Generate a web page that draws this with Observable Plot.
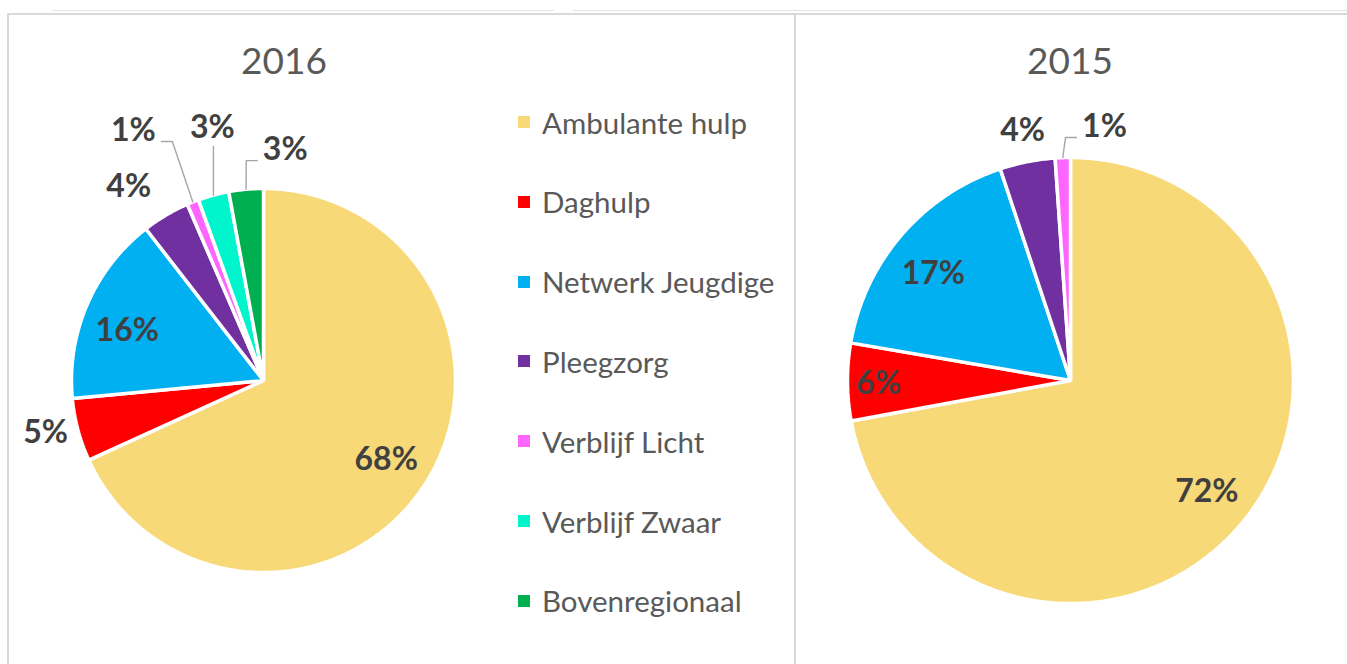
<!DOCTYPE html>
<html><head><meta charset="utf-8">
<script src="https://cdn.jsdelivr.net/npm/d3@7"></script>
<script src="https://cdn.jsdelivr.net/npm/@observablehq/plot@0.6"></script>
<style>
body{margin:0;background:#fff;font-family:Lato,"Open Sans",sans-serif;}
#root{position:relative;width:1347px;height:664px;overflow:hidden;background:#fff;}
.abs{position:absolute;}
.line{position:absolute;background:#D9D9D9;}
.title{position:absolute;width:200px;text-align:center;font-size:37px;line-height:40px;color:#595959;font-family:Lato,sans-serif;}
.leg{position:absolute;left:518px;height:30px;display:flex;align-items:center;font-size:29.5px;color:#595959;font-family:Lato,sans-serif;white-space:nowrap;}
.leg span.sw{display:inline-block;width:12px;height:12px;margin-right:12px;}
</style></head><body><div id="root"></div>
<script>
// ---- data ----
const categories = ["Ambulante hulp","Daghulp","Netwerk Jeugdige","Pleegzorg","Verblijf Licht","Verblijf Zwaar","Bovenregionaal"];
const colors = ["#F8D978","#FF0000","#00B0F0","#7030A0","#FF66FF","#00F5CC","#00B050"];
const values2016 = [68.2, 5.3, 16.0, 4.0, 1.0, 2.6, 2.9];
const values2015 = [72.1, 5.6, 17.2, 4.0, 1.1, 0, 0];
const years = ["2016","2015"];

// ---- layout (label placement: radius factor, angle shift deg, leader side) ----
const layout2016 = [
  {r:0.76, da:0}, {r:1.167, da:1.5}, {r:0.755, da:-3.4}, {r:1.23, da:-4.2},
  {r:1.468, da:-5.9, leader:"right"}, {r:1.344, da:3.7, leader:"below"}, {r:1.208, da:10.6, leader:"left"}
];
const layout2015 = [
  {r:0.79, da:-0.5}, {r:0.86, da:-0.5}, {r:0.78, da:-2.7}, {r:1.14, da:0.3},
  {r:1.149, da:9.6, leader:"left"}, {r:1, da:0}, {r:1, da:0}
];

const root = document.getElementById("root");
function addLine(l,t,w,h,c){const d=document.createElement("div");d.className="line";d.style.cssText=`left:${l}px;top:${t}px;width:${w}px;height:${h}px;`+(c?`background:${c};`:"");root.appendChild(d);}

function pie(values, layout, W, H, cx, cy, k){
  const arcs = d3.pie().sort(null).value(d=>d)(values);
  const pts = [];
  const labels = [];
  const leaders = [];
  arcs.forEach((a,i)=>{
    if(!(values[i] > 0)) return;
    const cat = categories[i];
    pts.push({cat, x:0, y:0});
    const n = Math.max(2, Math.ceil((a.endAngle-a.startAngle)/(Math.PI/360)));
    for(let j=0;j<=n;j++){
      const t = a.startAngle + (a.endAngle-a.startAngle)*j/n;
      pts.push({cat, x:Math.sin(t), y:Math.cos(t)});
    }
    const mid = (a.startAngle+a.endAngle)/2;
    const L = layout[i];
    const la = mid + L.da*Math.PI/180;
    const lx = L.r*Math.sin(la), ly = L.r*Math.cos(la);
    labels.push({x:lx, y:ly, text: Math.round(values[i])+"%"});
    if(L.leader){
      const ex = Math.sin(mid), ey = Math.cos(mid);
      const id = "L"+i;
      if(L.leader==="below"){
        leaders.push({id,x:ex,y:ly-19/k},{id,x:ex,y:ey});
      } else {
        const s = L.leader==="right" ? 1 : -1;
        const endX = lx + s*28/k, yy = ly - 11/k;
        const elbX = endX + s*11/k;
        leaders.push({id,x:endX,y:yy},{id,x:elbX,y:yy},{id,x:ex,y:ey});
      }
    }
  });
  return Plot.plot({
    width: W, height: H, margin: 0,
    style: {background:"transparent", overflow:"visible"},
    x: {domain:[-cx/k,(W-cx)/k], range:[0,W], axis:null},
    y: {domain:[-(H-cy)/k, cy/k], range:[H,0], axis:null},
    color: {domain: categories, range: colors},
    marks: [
      Plot.line(pts, {x:"x", y:"y", z:"cat", fill:"cat", stroke:"#fff", strokeWidth:3.5, strokeLinejoin:"miter", curve:"linear-closed"}),
      Plot.line(leaders, {x:"x", y:"y", z:"id", stroke:"#A6A6A6", strokeWidth:1.4}),
      Plot.text(labels, {x:"x", y:"y", text:"text", fontSize:32, fontWeight:700, fill:"#404040", fontFamily:"Lato"})
    ]
  });
}

// frames
addLine(52,10,502,1,"#E3E3E3");
addLine(573,10,774,1,"#E3E3E3");
addLine(8,13,1339,2);
addLine(7,13,2,651);
addLine(794,13,2,651);

const p1 = pie(values2016, layout2016, 794, 664, 263, 380, 192);
p1.style.position="absolute"; p1.style.left="0px"; p1.style.top="0px";
root.appendChild(p1);
const p2 = pie(values2015, layout2015, 551, 664, 274, 380, 223);
p2.style.position="absolute"; p2.style.left="796px"; p2.style.top="0px";
root.appendChild(p2);

// titles
[[years[0],284],[years[1],1070]].forEach(([t,x])=>{
  const d=document.createElement("div");d.className="title";d.textContent=t;
  d.style.left=(x-100)+"px";d.style.top="40px";root.appendChild(d);
});

// legend
categories.forEach((c,i)=>{
  const d=document.createElement("div");d.className="leg";
  d.style.top=(124 + i*79.8 - 17)+"px";
  const sw=document.createElement("span");sw.className="sw";sw.style.background=colors[i];
  d.appendChild(sw);d.appendChild(document.createTextNode(c));
  root.appendChild(d);
});
</script></body></html>
